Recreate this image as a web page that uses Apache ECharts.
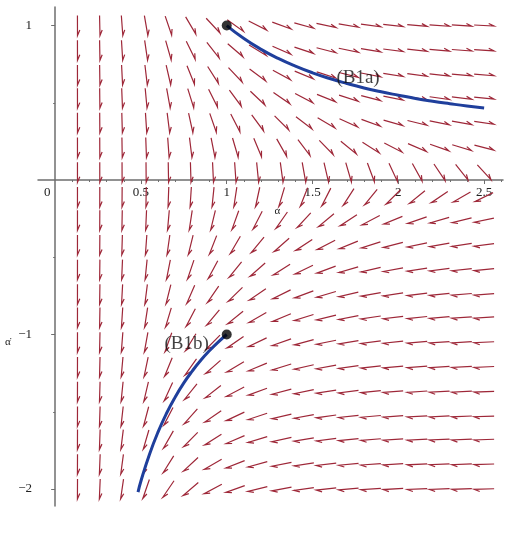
<!DOCTYPE html>
<html>
<head>
<meta charset="utf-8">
<script src="https://cdn.jsdelivr.net/npm/echarts@6/dist/echarts.min.js"></script>
<style>
html,body{margin:0;padding:0;background:#fff;}
#main{width:509px;height:538px;}
</style>
</head>
<body>
<div id="main"></div>
<script>
// grid of the direction field (alpha, alpha dot)
var xGrid = [0.13, 0.26, 0.39, 0.53, 0.66, 0.79, 0.92, 1.05, 1.18, 1.32, 1.45, 1.58, 1.71, 1.84, 1.97, 2.11, 2.24, 2.37, 2.5];
var yGrid = [-2, -1.84, -1.68, -1.53, -1.37, -1.21, -1.05, -0.89, -0.74, -0.58, -0.42, -0.26, -0.11, 0.05, 0.21, 0.37, 0.53, 0.68, 0.84, 1];
// downward pull (alpha double dot) for each column
var accel = [408, 51, 15.1, 6.4, 3.27, 1.89, 1.19, 0.8, 0.56, 0.41, 0.31, 0.24, 0.19, 0.15, 0.12, 0.1, 0.083, 0.07, 0.06];

var curveB1a = [[1, 1], [1.1, 0.916], [1.2, 0.846], [1.3, 0.787], [1.4, 0.737], [1.5, 0.694], [1.6, 0.657], [1.7, 0.625],
  [1.8, 0.596], [1.9, 0.571], [2, 0.549], [2.1, 0.528], [2.2, 0.51], [2.3, 0.494], [2.4, 0.479], [2.5, 0.466]];
var curveB1b = [[1, -1], [0.95, -1.049], [0.9, -1.104], [0.85, -1.165], [0.8, -1.235], [0.75, -1.313], [0.7, -1.404],
  [0.65, -1.508], [0.6, -1.63], [0.55, -1.775], [0.5, -1.948], [0.483, -2.02]];
var startPoints = [[1, 1], [1, -1]];

var xMajor = [0.5, 1, 1.5, 2, 2.5];
var xLabels = [0, 0.5, 1, 1.5, 2, 2.5];
var xMinor = [0.1, 0.2, 0.3, 0.4, 0.6, 0.7, 0.8, 0.9, 1.1, 1.2, 1.3, 1.4, 1.6, 1.7, 1.8, 1.9, 2.1, 2.2, 2.3, 2.4, 2.6];
var yMajor = [-2, -1, 1];
var yMinor = [-1.5, -0.5, 0.5];

var field = [];
xGrid.forEach(function (x, i) {
  yGrid.forEach(function (y) {
    field.push([x, y, y, -accel[i]]);
  });
});

var myChart = echarts.init(document.getElementById('main'));

function renderArrow(params, api) {
  var c = api.coord([api.value(0), api.value(1)]);
  var s = api.size([1, 1]);
  var dx = api.value(2) * s[0];
  var dy = -api.value(3) * s[1];
  var n = Math.sqrt(dx * dx + dy * dy);
  dx /= n; dy /= n;
  var L = 20, h = 6, a = 0.4;
  var tail = [c[0] - dx * L / 2, c[1] - dy * L / 2];
  var tip = [c[0] + dx * L / 2, c[1] + dy * L / 2];
  var px = dy, py = -dx;   // left side of the arrow on screen
  var barb = [tip[0] - dx * h * Math.cos(a) + px * h * Math.sin(a),
              tip[1] - dy * h * Math.cos(a) + py * h * Math.sin(a)];
  return {
    type: 'polyline',
    shape: { points: [tail, tip, barb] },
    style: { stroke: '#9e2738', lineWidth: 1.2, fill: null }
  };
}

var serif = 'Liberation Serif';
var axisColor = '#6e6e6e';

var option = {
  animation: false,
  grid: { left: 38, right: 6, top: 7, bottom: 32, outerBoundsMode: 'none', containLabel: false },
  xAxis: [
    {
      type: 'value', min: -0.1, max: 2.61, position: 'bottom', offset: 0,
      axisLine: { onZero: false, lineStyle: { color: axisColor, width: 1.5 } },
      axisTick: { customValues: xMajor, length: 4, lineStyle: { color: axisColor } },
      axisLabel: {
        customValues: xLabels, margin: 6, color: '#222', fontFamily: serif, fontSize: 13,
        formatter: function (v) { return v === 0 ? '{z|0}' : String(v); },
        rich: { z: { padding: [0, 16, 0, 0], fontFamily: serif, fontSize: 13, color: '#222' } }
      },
      splitLine: { show: false },
      name: 'α', nameLocation: 'middle', nameGap: 26,
      nameTextStyle: { fontFamily: serif, fontSize: 11, color: '#222', padding: [0, 0, 0, 14] }
    },
    {
      type: 'value', min: -0.1, max: 2.61, position: 'bottom', offset: 0,
      axisLine: { show: false, onZero: false },
      axisTick: { customValues: xMinor, length: 2, lineStyle: { color: axisColor } },
      axisLabel: { show: false },
      splitLine: { show: false }
    }
  ],
  yAxis: [
    {
      type: 'value', min: -2.11, max: 1.12,
      axisLine: { onZero: true, onZeroAxisIndex: 0, lineStyle: { color: axisColor, width: 1.5 } },
      axisTick: { customValues: yMajor, length: 4, lineStyle: { color: axisColor } },
      axisLabel: {
        customValues: yMajor, margin: 6, color: '#222', fontFamily: serif, fontSize: 13,
        formatter: function (v) { return v < 0 ? '\u2212' + Math.abs(v) : String(v); }
      },
      splitLine: { show: false }
    },
    {
      type: 'value', min: -2.11, max: 1.12, position: 'left',
      axisLine: { show: false, onZero: true, onZeroAxisIndex: 0 },
      axisTick: { customValues: yMinor, length: 2, lineStyle: { color: axisColor } },
      axisLabel: { show: false },
      splitLine: { show: false }
    }
  ],
  graphic: [
    { type: 'text', left: 5, top: 337, style: { text: 'α\u0307', font: '11px "Liberation Serif"', fill: '#222' } }
  ],
  series: [
    {
      name: 'field', type: 'custom', renderItem: renderArrow,
      encode: { x: 0, y: 1 }, data: field, z: 2, silent: true
    },
    {
      name: 'B1a', type: 'line', data: curveB1a, showSymbol: false, smooth: true, z: 3,
      lineStyle: { color: '#1f3f9c', width: 3 }
    },
    {
      name: 'B1b', type: 'line', data: curveB1b, showSymbol: false, smooth: true, z: 3,
      lineStyle: { color: '#1f3f9c', width: 3 }
    },
    {
      name: 'start', type: 'scatter', data: startPoints, symbolSize: 10, z: 4,
      itemStyle: { color: '#000' }
    },
    {
      name: 'labels', type: 'scatter', symbolSize: 0, z: 5,
      data: [[1.765, 0.66, '(B1a)'], [0.766, -1.061, '(B1b)']],
      label: {
        show: true, position: 'inside', formatter: function (p) { return p.value[2]; },
        fontFamily: serif, fontSize: 19, color: '#111'
      }
    }
  ]
};
myChart.setOption(option);

// put the alpha axis through alpha dot = 0
var zeroPx = myChart.convertToPixel({ yAxisIndex: 0 }, 0);
var bottomPx = myChart.convertToPixel({ yAxisIndex: 0 }, -2.11);
var shift = -(bottomPx - zeroPx);
myChart.setOption({ xAxis: [{ offset: shift }, { offset: shift }] });
</script>
</body>
</html>
